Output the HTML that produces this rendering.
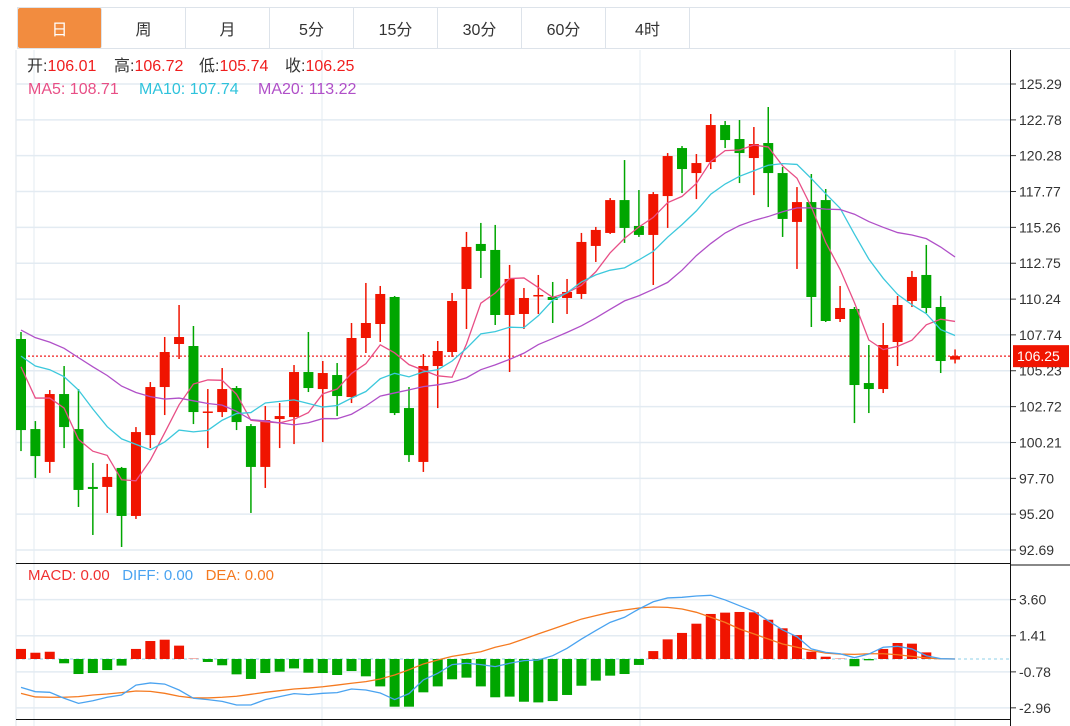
<!DOCTYPE html>
<html><head><meta charset="utf-8">
<style>
body{margin:0;background:#fff;width:1070px;height:726px;overflow:hidden;font-family:"Liberation Sans","Noto Sans CJK SC",sans-serif;}
#tabs{position:absolute;left:17px;top:7px;width:1053px;height:42px;border:1px solid #dde3ea;border-right:none;display:flex;box-sizing:border-box;}
.tab{width:84px;height:100%;border-right:1px solid #dde3ea;display:flex;align-items:center;justify-content:center;font-size:16px;color:#333;box-sizing:border-box;}
.tab.on{background:#f28c3f;color:#fff;border-radius:2px;}
.info{position:absolute;font-size:16px;line-height:18px;white-space:pre;}
svg{position:absolute;left:0;top:0;}
</style></head><body>
<div id="tabs">
<div class="tab on">日</div>
<div class="tab">周</div>
<div class="tab">月</div>
<div class="tab">5分</div>
<div class="tab">15分</div>
<div class="tab">30分</div>
<div class="tab">60分</div>
<div class="tab">4时</div>
</div>
<svg id="chart" width="1070" height="726"></svg>
<div>
<div class="info" style="top:58px;left:27px"><span style="color:#333">开:</span><span style="color:#f01e1e">106.01</span></div>
<div class="info" style="top:58px;left:114px"><span style="color:#333">高:</span><span style="color:#f01e1e">106.72</span></div>
<div class="info" style="top:58px;left:199px"><span style="color:#333">低:</span><span style="color:#f01e1e">105.74</span></div>
<div class="info" style="top:58px;left:285px"><span style="color:#333">收:</span><span style="color:#f01e1e">106.25</span></div>
</div>
<div>
<div class="info" style="top:81px;left:28px;color:#e84f86">MA5: 108.71</div>
<div class="info" style="top:81px;left:139px;color:#2fc3dc">MA10: 107.74</div>
<div class="info" style="top:81px;left:258px;color:#b050c8">MA20: 113.22</div>
</div>
<div class="info" style="top:567px;left:28px;font-size:15px"><span style="color:#f03030">MACD: 0.00</span>   <span style="color:#4aa3f0">DIFF: 0.00</span>   <span style="color:#f57a20">DEA: 0.00</span></div>
<script>
const opens=[107.45,101.15,98.85,103.60,101.15,97.10,97.10,98.43,95.07,100.73,104.09,107.10,106.96,102.31,102.34,104.02,101.36,98.50,101.85,101.99,105.14,103.95,104.93,103.39,107.52,108.50,110.39,102.62,98.85,105.56,106.54,110.95,114.10,113.68,109.13,109.20,110.46,110.39,110.32,110.60,113.96,114.87,117.17,115.36,114.73,117.45,120.81,119.06,119.83,122.42,121.44,120.11,121.16,119.06,115.64,117.03,117.17,108.85,109.55,104.37,103.95,107.24,110.11,111.93,109.69,106.01];
const highs=[107.94,101.71,103.88,105.56,103.95,98.78,98.71,98.50,101.29,104.44,107.59,109.83,108.36,103.95,105.42,104.16,101.50,102.76,102.97,105.63,107.94,105.91,105.77,108.57,111.37,111.16,110.46,104.09,106.40,107.31,110.67,114.94,115.57,115.43,112.63,111.02,111.93,111.44,111.65,114.87,115.29,117.31,119.97,117.87,117.73,120.46,120.95,120.39,123.19,122.70,122.77,122.28,123.68,119.48,118.08,118.99,117.94,111.16,109.69,107.03,108.57,110.46,112.21,114.03,110.46,106.72];
const lows=[99.61,97.73,98.08,99.82,95.70,93.74,95.28,92.90,94.86,99.82,102.13,106.05,101.50,99.82,101.99,101.08,95.28,97.03,99.82,100.10,103.74,100.24,102.06,102.97,106.47,107.24,102.13,98.85,98.15,102.62,106.19,108.15,111.72,108.43,105.14,108.15,109.20,108.57,109.20,110.25,112.84,114.80,114.17,114.59,111.23,115.22,117.66,117.24,119.34,120.81,118.36,117.52,116.68,114.59,112.35,108.29,108.64,108.64,101.57,102.27,103.67,105.56,109.69,109.27,105.07,105.74];
const closes=[101.08,99.26,103.60,101.29,96.89,96.96,97.80,95.07,100.94,104.09,106.54,107.59,102.34,102.38,103.95,101.64,98.50,101.78,102.06,105.14,104.02,105.07,103.46,107.52,108.57,110.60,102.27,99.33,105.56,106.61,110.11,113.89,113.61,109.13,111.65,110.32,110.53,110.18,110.74,114.24,115.08,117.17,115.22,114.73,117.59,120.25,119.34,119.76,122.42,121.37,120.46,121.09,119.06,115.85,117.03,110.39,108.71,109.62,104.23,103.95,107.03,109.83,111.79,109.62,105.91,106.25];
const priorCloses=[109.90,109.90,109.90,109.90,109.90,109.90,109.90,109.90,109.90,109.90,106.19,106.19,106.19,106.19,110.25,110.18,103.60,104.79,107.87];
const macdHist=[0.61,0.38,0.44,-0.26,-0.91,-0.85,-0.67,-0.40,0.61,1.09,1.17,0.81,0.02,-0.18,-0.38,-0.93,-1.21,-0.85,-0.77,-0.57,-0.83,-0.85,-0.97,-0.73,-1.05,-1.66,-2.89,-2.89,-2.02,-1.66,-1.23,-1.13,-1.66,-2.32,-2.28,-2.59,-2.63,-2.55,-2.18,-1.62,-1.31,-1.01,-0.91,-0.36,0.48,1.19,1.58,2.14,2.73,2.81,2.85,2.83,2.38,1.86,1.45,0.44,0.14,0.02,-0.44,-0.08,0.61,0.97,0.93,0.40,0.01,0];
const diffVals=[-1.72,-1.98,-2.02,-2.38,-2.69,-2.53,-2.32,-2.18,-1.58,-1.45,-1.52,-1.88,-2.38,-2.46,-2.57,-2.79,-2.79,-2.46,-2.28,-2.10,-2.16,-2.08,-2.04,-1.82,-1.88,-2.06,-2.46,-2.10,-1.27,-0.87,-0.34,-0.26,-0.34,-0.46,-0.26,-0.10,-0.06,0.20,0.65,1.21,1.72,2.22,2.53,3.03,3.47,3.70,3.74,3.82,3.86,3.58,3.23,2.89,2.32,1.76,1.35,0.61,0.40,0.32,0.08,0.30,0.71,0.77,0.61,0.20,0.02,0];
const deaVals=[-2.08,-2.30,-2.32,-2.32,-2.28,-2.18,-2.12,-2.04,-1.94,-1.96,-2.08,-2.26,-2.36,-2.36,-2.32,-2.26,-2.14,-2.02,-1.92,-1.82,-1.76,-1.68,-1.58,-1.47,-1.37,-1.21,-0.97,-0.65,-0.30,-0.06,0.16,0.30,0.44,0.71,0.91,1.21,1.52,1.82,2.12,2.42,2.63,2.83,2.97,3.09,3.15,3.13,3.03,2.83,2.53,2.22,1.82,1.52,1.21,0.91,0.71,0.51,0.36,0.30,0.28,0.32,0.32,0.26,0.16,0.06,0.01,0];
const priceTicks=["125.29","122.78","120.28","117.77","115.26","112.75","110.24","107.74","105.23","102.72","100.21","97.70","95.20","92.69"];
const macdTicks=["3.60","1.41","-0.78","-2.96"];
const lastPrice=106.25;

const NS="http://www.w3.org/2000/svg";
const svg=document.getElementById('chart');
function xOf(i){return 21+i*14.37;}
function yOf(v){return 84+(125.29-v)*14.294;}
function yM(v){return 659-v*16.5;}
function add(tag,attrs,parent){const e=document.createElementNS(NS,tag);for(const k in attrs)e.setAttribute(k,attrs[k]);(parent||svg).appendChild(e);return e;}

const grid=add('g',{});


add('line',{x1:16,y1:50,x2:16,y2:726,stroke:'#dde3ea'},grid);
[34,322,640,955].forEach(x=>add('line',{x1:x,y1:50,x2:x,y2:726,stroke:'#e3ebf2'},grid));
priceTicks.forEach(t=>add('line',{x1:16,y1:yOf(+t),x2:1010,y2:yOf(+t),stroke:'#e3ebf2','stroke-width':1.5},grid));
macdTicks.forEach(t=>add('line',{x1:16,y1:yM(+t),x2:1010,y2:yM(+t),stroke:'#e3ebf2','stroke-width':1.5},grid));
add('line',{x1:16,y1:563.5,x2:1010,y2:563.5,stroke:'#111'},grid);
add('line',{x1:1010,y1:565,x2:1070,y2:565,stroke:'#111'},grid);
add('line',{x1:16,y1:719.5,x2:1010,y2:719.5,stroke:'#111'},grid);
add('line',{x1:1010.5,y1:50,x2:1010.5,y2:726,stroke:'#111'},grid);

const ax=add('g',{'font-size':14,fill:'#333','font-family':'Liberation Sans, sans-serif'});


priceTicks.forEach(t=>{const y=yOf(+t);add('line',{x1:1011,y1:y,x2:1016,y2:y,stroke:'#333'},ax);const tx=add('text',{x:1019,y:y+5},ax);tx.textContent=t;});
const axm=add('g',{'font-size':14,fill:'#333','font-family':'Liberation Sans, sans-serif'});


macdTicks.forEach(t=>{const y=yM(+t);add('line',{x1:1011,y1:y,x2:1016,y2:y,stroke:'#333'},axm);const tx=add('text',{x:1019,y:y+5},axm);tx.textContent=t;});

const lp=add('line',{x1:16,y1:yOf(lastPrice),x2:1010,y2:yOf(lastPrice),stroke:'#f01e1e','stroke-dasharray':'2,2','stroke-width':1.2});


const lpb=add('rect',{x:1013,y:yOf(lastPrice)-11,width:56,height:22,fill:'#f01400'});


const lpt=add('text',{x:1017,y:yOf(lastPrice)+5,fill:'#fff','font-size':14});
lpt.textContent=lastPrice.toFixed(2);

const cg=add('g',{});


closes.forEach((c,i)=>{
  const o=opens[i],up=c>=o,col=up?'#f01400':'#00a600',x=xOf(i);
  const g=add('g',{},cg);
  
  
  add('line',{x1:x,y1:yOf(highs[i]),x2:x,y2:yOf(lows[i]),stroke:col,'stroke-width':1.5},g);
  const t=yOf(Math.max(o,c)),b=yOf(Math.min(o,c));
  add('rect',{x:x-5,y:t,width:10,height:Math.max(1.5,b-t),fill:col},g);
});

const all=priorCloses.concat(closes);
function ma(n){return closes.map((_,i)=>{const j=i+priorCloses.length;let s=0;for(let k=j-n+1;k<=j;k++)s+=all[k];return s/n;});}
[[5,'#e84f86','ma5-line'],[10,'#3cc8dc','ma10-line'],[20,'#b050c8','ma20-line']].forEach(([n,col,nm])=>{
  const pts=ma(n).map((v,i)=>xOf(i)+','+yOf(v)).join(' ');
  const p=add('polyline',{points:pts,fill:'none',stroke:col,'stroke-width':1.3});
  
  
});

const zl=add('line',{x1:16,y1:yM(0),x2:1010,y2:yM(0),stroke:'#8fd0e8','stroke-dasharray':'3,3'});


const mg=add('g',{});


macdHist.forEach((v,i)=>{
  const y0=yM(0),y1=yM(v);
  const r=add('rect',{x:xOf(i)-5,y:Math.min(y0,y1),width:10,height:Math.abs(y1-y0),fill:v>=0?'#f01400':'#00a600'},mg);
  
  
});
[[deaVals,'#f57a20','dea-line'],[diffVals,'#4aa3f0','diff-line']].forEach(([arr,col,nm])=>{
  const pts=arr.map((v,i)=>xOf(i)+','+yM(v)).join(' ');
  const p=add('polyline',{points:pts,fill:'none',stroke:col,'stroke-width':1.3});
  
  
});
</script>
</body></html>
